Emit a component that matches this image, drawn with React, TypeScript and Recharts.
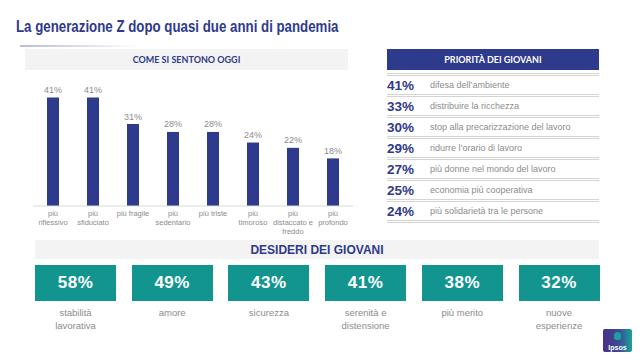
import { BarChart, Bar, XAxis, YAxis, LabelList } from "recharts";

// come si sentono oggi
const stati = [
  "più\nriflessivo",
  "più\nsfiduciato",
  "più fragile",
  "più\nsedentario",
  "più triste",
  "più\ntimoroso",
  "più\ndistaccato e\nfreddo",
  "più\nprofondo",
];
const statiPct = [41, 41, 31, 28, 28, 24, 22, 18];

// priorità dei giovani
const prioritaPct = [41, 33, 30, 29, 27, 25, 24];
const prioritaVoci = [
  "difesa dell’ambiente",
  "distribuire la ricchezza",
  "stop alla precarizzazione del lavoro",
  "ridurre l’orario di lavoro",
  "più donne nel mondo del lavoro",
  "economia più cooperativa",
  "più solidarietà tra le persone",
];

// desideri dei giovani
const desideriPct = [58, 49, 43, 41, 38, 32];
const desideriVoci = [
  "stabilità\nlavorativa",
  "amore",
  "sicurezza",
  "serenità e\ndistensione",
  "più merito",
  "nuove\nesperienze",
];

const NAVY = "#2e3a8c";
const TEAL = "#13958f";
const GRIGIO = "#8c8c8c";
const ARIAL = "'Liberation Sans', Arial, sans-serif";
const CALIBRI = "Lato, 'Open Sans', sans-serif";

const datiStati = stati.map((s, i) => ({ stato: s, valore: statiPct[i] }));

function TickStato({ x, y, payload }: any) {
  const righe = String(payload.value).split("\n");
  return (
    <text x={x} y={y} textAnchor="middle" fill={GRIGIO} fontSize={7.5} fontFamily={ARIAL}>
      {righe.map((r, i) => (
        <tspan key={i} x={x} dy={i === 0 ? 2 : 8.8}>
          {r}
        </tspan>
      ))}
    </text>
  );
}

export default function App() {
  return (
    <div style={{ position: "absolute", left: 0, top: 0, width: 643, height: 361, background: "#fff", overflow: "hidden" }}>
      {/* titolo (carattere stretto) */}
      <div
        style={{
          position: "absolute",
          left: 16,
          top: 17,
          fontFamily: ARIAL,
          fontWeight: 700,
          fontSize: 16.5,
          color: NAVY,
          whiteSpace: "nowrap",
          transform: "scaleX(0.805)",
          transformOrigin: "left top",
        }}
      >
        La generazione Z dopo quasi due anni di pandemia
      </div>
      <div style={{ position: "absolute", left: 20, top: 45, width: 120, height: 2, background: "linear-gradient(to right, #b9bbdc, rgba(255,255,255,0))" }} />

      {/* come si sentono oggi */}
      <div style={{ position: "absolute", left: 25, top: 49, width: 323, height: 21, background: "#f3f3f3", display: "flex", alignItems: "center", justifyContent: "center", fontFamily: CALIBRI, fontWeight: 700, fontSize: 9, color: NAVY }}>
        COME SI SENTONO OGGI
      </div>
      <div style={{ position: "absolute", left: 33, top: 80 }}>
        <BarChart width={320} height={156} data={datiStati} margin={{ top: 7, right: 0, left: 0, bottom: 0 }}>
          <XAxis
            dataKey="stato"
            interval={0}
            height={30}
            tickLine={false}
            axisLine={{ stroke: "#d9d9d9" }}
            tick={<TickStato />}
          />
          <YAxis hide domain={[0, 45]} />
          <Bar dataKey="valore" fill={NAVY} barSize={12} isAnimationActive={false}>
            <LabelList
              dataKey="valore"
              position="top"
              offset={4.5}
              formatter={(v: any) => `${v}%`}
              style={{ fill: GRIGIO, fontSize: 9, fontFamily: ARIAL }}
            />
          </Bar>
        </BarChart>
      </div>

      {/* priorità dei giovani */}
      <div style={{ position: "absolute", left: 387, top: 49, width: 212, height: 21, background: NAVY, display: "flex", alignItems: "center", justifyContent: "center", fontFamily: CALIBRI, fontWeight: 700, fontSize: 9, color: "#fff" }}>
        PRIORITÀ DEI GIOVANI
      </div>
      {prioritaPct.map((p, i) => (
        <div
          key={i}
          style={{
            position: "absolute",
            left: 387,
            top: 73 + 21 * i,
            width: 212,
            height: 18,
            borderTop: "3px double #d4d4d4",
            display: "flex",
            alignItems: "center",
          }}
        >
          <span style={{ width: 43, fontFamily: ARIAL, fontWeight: 700, fontSize: 13.5, color: NAVY }}>{p}%</span>
          <span style={{ fontFamily: ARIAL, fontSize: 9, color: GRIGIO }}>{prioritaVoci[i]}</span>
        </div>
      ))}
      <div style={{ position: "absolute", left: 387, top: 220, width: 212, height: 0, borderTop: "3px double #d4d4d4" }} />

      {/* desideri dei giovani */}
      <div style={{ position: "absolute", left: 35, top: 240, width: 564, height: 19, background: "#f3f3f3", display: "flex", alignItems: "center", justifyContent: "center", fontFamily: ARIAL, fontWeight: 700, fontSize: 12, color: NAVY }}>
        DESIDERI DEI GIOVANI
      </div>
      {desideriPct.map((p, i) => (
        <div key={i}>
          <div
            style={{
              position: "absolute",
              left: 35 + 96.7 * i,
              top: 265,
              width: 81,
              height: 36,
              background: TEAL,
              display: "flex",
              alignItems: "center",
              justifyContent: "center",
              fontFamily: ARIAL,
              fontWeight: 700,
              fontSize: 17,
              letterSpacing: 0.5,
              color: "#fff",
            }}
          >
            {p}%
          </div>
          <div
            style={{
              position: "absolute",
              left: 35 + 96.7 * i,
              top: 307,
              width: 81,
              textAlign: "center",
              fontFamily: ARIAL,
              fontSize: 9.5,
              lineHeight: "12.5px",
              color: GRIGIO,
              whiteSpace: "pre-line",
            }}
          >
            {desideriVoci[i]}
          </div>
        </div>
      ))}

      {/* logo */}
      <div
        style={{
          position: "absolute",
          left: 603,
          top: 329,
          width: 29,
          height: 23,
          borderRadius: 2,
          background: "linear-gradient(to right, #4a2f86 0%, #3d4a94 55%, #1aa39a 100%)",
          overflow: "hidden",
        }}
      >
        <div style={{ position: "absolute", left: 11, top: 3, width: 7, height: 8, borderRadius: "50% 50% 40% 40%", background: "#1aa39a" }} />
        <div style={{ position: "absolute", left: 0, bottom: 1, width: 29, textAlign: "center", fontFamily: ARIAL, fontWeight: 700, fontSize: 7, color: "#fff" }}>
          Ipsos
        </div>
      </div>
    </div>
  );
}
